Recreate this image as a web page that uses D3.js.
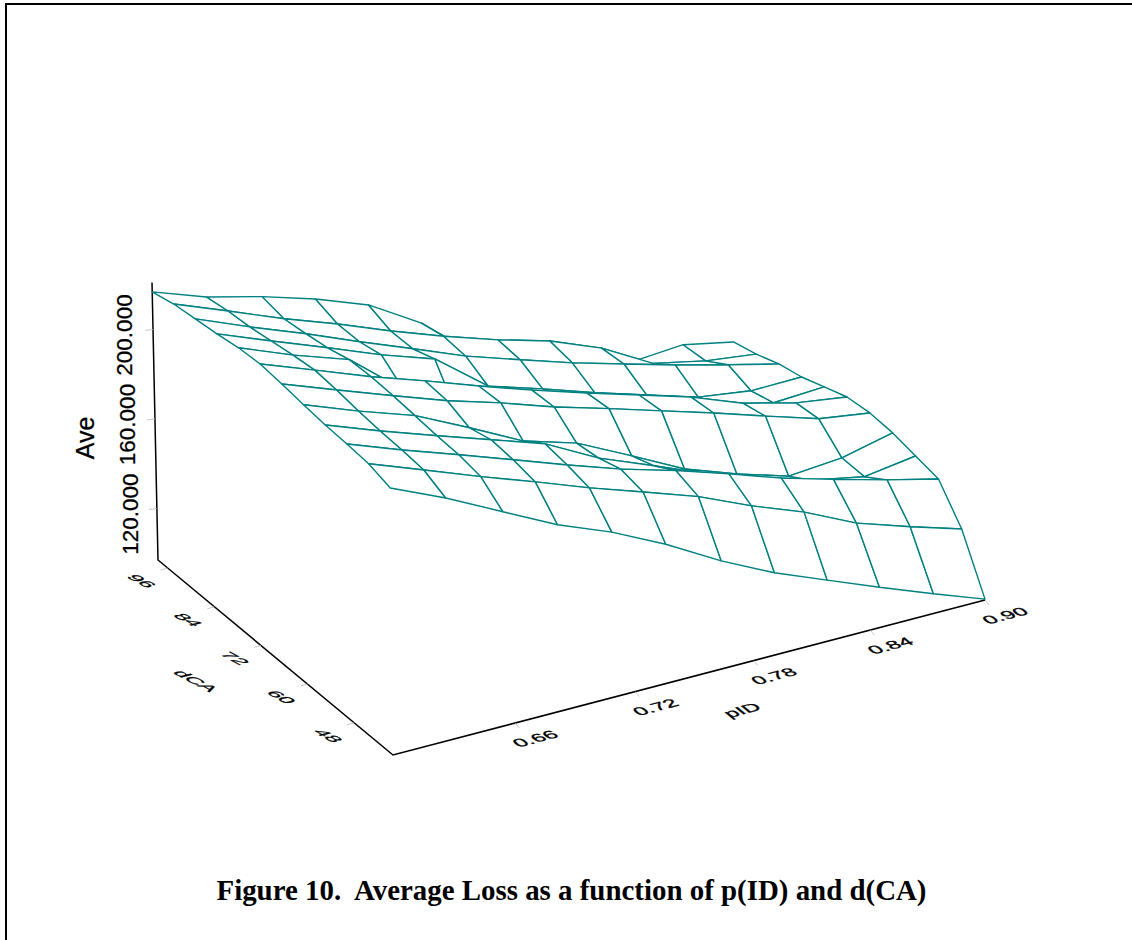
<!DOCTYPE html>
<html>
<head>
<meta charset="utf-8">
<script src="https://cdn.jsdelivr.net/npm/d3@7"></script>
<style>
  html, body { margin: 0; padding: 0; background: #fff; }
  svg { display: block; }
  text { font-family: "Liberation Sans", Arial, sans-serif; fill: #000; }
</style>
</head>
<body>
<div id="graph"></div>
<script>
const pID = [0.6, 0.627, 0.655, 0.682, 0.709, 0.736, 0.764, 0.791, 0.818, 0.845, 0.873, 0.9];
const dCA = [98.5, 93, 87.5, 82, 76.5, 71, 65.5, 60, 54.5, 49, 43.5, 38];

// average loss, one list per dCA level (back of the plot to the front)
const ave0 = [216.8, 208.3, 202.0, 194.8, 186.0, 171.8, 151.4, 146.7, 139.4, 130.3, 132.0, 127.4];
const ave1 = [219.3, 209.9, 200.0, 191.5, 182.2, 173.8, 165.9, 159.4, 150.2, 137.5, 132.5, 129.7];
const ave2 = [220.6, 210.7, 201.2, 191.4, 182.1, 172.7, 164.8, 157.4, 150.9, 144.5, 138.5, 133.0];
const ave3 = [221.8, 212.3, 202.8, 193.4, 185.4, 167.1, 159.6, 151.8, 144.8, 137.9, 134.6, 134.9];
const ave4 = [223.5, 213.9, 205.4, 185.6, 168.2, 170.0, 163.4, 157.3, 150.3, 142.1, 137.0, 138.2];
const ave5 = [224.2, 215.1, 205.6, 197.5, 189.0, 181.0, 173.4, 166.4, 159.4, 150.7, 144.7, 141.4];
const ave6 = [223.2, 214.1, 205.0, 196.5, 189.3, 181.3, 174.2, 167.1, 160.1, 152.7, 145.3, 142.0];
const ave7 = [221.8, 212.6, 204.0, 192.3, 180.1, 173.0, 160.9, 148.9, 140.6, 133.6, 135.6, 140.8];
const ave8 = [220.7, 211.6, 202.9, 194.8, 186.7, 174.1, 164.3, 154.5, 146.6, 139.6, 134.9, 138.2];
const ave9 = [220.1, 211.0, 202.3, 193.7, 185.1, 177.0, 169.9, 162.3, 154.3, 147.7, 141.2, 135.6];
const ave10 = [219.2, 210.0, 200.4, 191.7, 182.7, 174.6, 166.1, 155.8, 146.9, 135.9, 128.0, 121.0];
const ave11 = [216.3, 205.4, 192.6, 180.4, 170.8, 159.1, 145.2, 133.7, 124.3, 115.0, 105.8, 97.4];
const aveRows = [ave0, ave1, ave2, ave3, ave4, ave5, ave6, ave7, ave8, ave9, ave10, ave11];

const aveTicks = [200, 160, 120];
const dcaTicks = [96, 84, 72, 60, 48];
const pidTicks = [0.66, 0.72, 0.78, 0.84, 0.90];

const TEAL = '#008080';
const FLOOR_AVE = 97;
const TOP_AVE = 221;

var svg = d3.select('#graph')
  .append('svg')
  .attr('width', 1132)
  .attr('height', 940);

// page frame of the scanned figure
svg.append('path')
  .attr('d', 'M6,940V4H1132')
  .attr('fill', 'none')
  .attr('stroke', '#000')
  .attr('stroke-width', 2);

var pScale = d3.scaleLinear().domain([0.6, 0.9]).range([0, 1]);
var dScale = d3.scaleLinear().domain([98.5, 38]).range([0, 1]);
var hScale = d3.scaleLinear().domain([FLOOR_AVE, TOP_AVE]).range([0, 277.5]);

var xLeft = d3.scaleLinear().domain([0, 1]).range([158, 393]);
var xRight = d3.scaleLinear().domain([0, 1]).range([735, 985]);
var yLeft = d3.scaleLinear().domain([0, 1]).range([560, 755]);
var yRight = d3.scaleLinear().domain([0, 1]).range([410, 600]);
var tilt = d3.scaleLinear().domain([0, 1]).range([0.0216, 0.01]);

// floor is a slightly foreshortened quad, height goes straight up with a small lean
function project(p, d, a) {
  let u = pScale(p);
  u = u * 1.04 / (1 + 0.04 * u);
  let v = dScale(d);
  let h = hScale(a);
  let x = xLeft(v) + (xRight(v) - xLeft(v)) * u;
  let y = yLeft(v) + (yRight(v) - yLeft(v)) * u;
  return [x - h * tilt(v), y - h];
}

// cells go back to front, the white fill takes care of the hidden lines
var cells = [];
d3.range(dCA.length - 1).forEach((j) => {
  d3.range(pID.length - 1).forEach((i) => {
    cells.push([
      project(pID[i], dCA[j], aveRows[j][i]),
      project(pID[i + 1], dCA[j], aveRows[j][i + 1]),
      project(pID[i + 1], dCA[j + 1], aveRows[j + 1][i + 1]),
      project(pID[i], dCA[j + 1], aveRows[j + 1][i])
    ]);
  });
});

// axes
var pMin = pScale.domain()[0], pMax = pScale.domain()[1];
var dBack = dScale.domain()[0], dFront = dScale.domain()[1];

var axisLine = d3.line();
svg.append('path')
  .attr('d', axisLine([
    project(pMin, dBack, TOP_AVE),
    project(pMin, dBack, FLOOR_AVE),
    project(pMin, dFront, FLOOR_AVE),
    project(pMax, dFront, FLOOR_AVE)
  ]))
  .attr('fill', 'none')
  .attr('stroke', '#000')
  .attr('stroke-width', 1.5);

svg.append('g')
  .selectAll('path')
  .data(cells)
  .enter()
  .append('path')
  .attr('d', (d) => d3.line()(d) + 'Z')
  .attr('fill', '#fff')
  .attr('stroke', TEAL)
  .attr('stroke-width', 1.4)
  .attr('stroke-linejoin', 'round');

// faint tick marks
function tick(pos, dx, dy) {
  svg.append('line')
    .attr('x1', pos[0]).attr('y1', pos[1])
    .attr('x2', pos[0] + dx).attr('y2', pos[1] + dy)
    .attr('stroke', '#bbb')
    .attr('stroke-width', 0.8);
}

// ave axis, labels read bottom to top
aveTicks.forEach((t) => {
  let pos = project(pMin, dBack, t);
  tick(pos, -8, 1);
  svg.append('text')
    .attr('transform', `translate(${pos[0] - 21 + (200 - t) * 0.025},${pos[1] + 5.5}) rotate(-90)`)
    .attr('text-anchor', 'middle')
    .attr('stroke', '#000')
    .attr('stroke-width', 0.25)
    .style('font-size', '22.5px')
    .text(d3.format('.3f')(t));
});

svg.append('text')
  .attr('transform', 'translate(94,438) rotate(-90)')
  .attr('text-anchor', 'middle')
  .attr('stroke', '#000')
  .attr('stroke-width', 0.25)
  .style('font-size', '25px')
  .text('Ave');

// floor labels lie in the floor plane: baseline along one axis, glyph height along the other
var pDir = [0.967, -0.253];
var dDir = [0.77, 0.64];
var dBase = [0.88, 0.47];

function floorText(cx, cy, str, dirX, dirDown, sy) {
  svg.append('text')
    .attr('transform', `matrix(${dirX[0]},${dirX[1]},${dirDown[0] * sy},${dirDown[1] * sy},${cx},${cy})`)
    .attr('text-anchor', 'middle')
    .attr('dy', '0.36em')
    .attr('stroke', '#000')
    .attr('stroke-width', 0.5)
    .style('font-size', '22px')
    .text(str);
}

dcaTicks.forEach((t) => {
  let pos = project(pMin, t, FLOOR_AVE);
  tick(pos, -7, 2);
  floorText(pos[0] - 26, pos[1] + 13, String(t), dBase, [-pDir[0], -pDir[1]], 0.72);
});

pidTicks.forEach((t) => {
  let pos = project(t, dFront, FLOOR_AVE);
  tick(pos, 4, 5);
  floorText(pos[0] + 20, pos[1] + 15.5, d3.format('.2f')(t), pDir, dDir, 0.7);
});

floorText(196, 681, 'dCA', dBase, [-pDir[0], -pDir[1]], 0.72);
floorText(742, 710, 'pID', pDir, dDir, 0.7);

svg.append('text')
  .attr('x', 571.5)
  .attr('y', 900)
  .attr('text-anchor', 'middle')
  .attr('xml:space', 'preserve')
  .style('white-space', 'pre')
  .style('font-family', '"Liberation Serif", "Times New Roman", serif')
  .style('font-weight', 'bold')
  .style('font-size', '28.9px')
  .text('Figure 10.  Average Loss as a function of p(ID) and d(CA)');
</script>
</body>
</html>
